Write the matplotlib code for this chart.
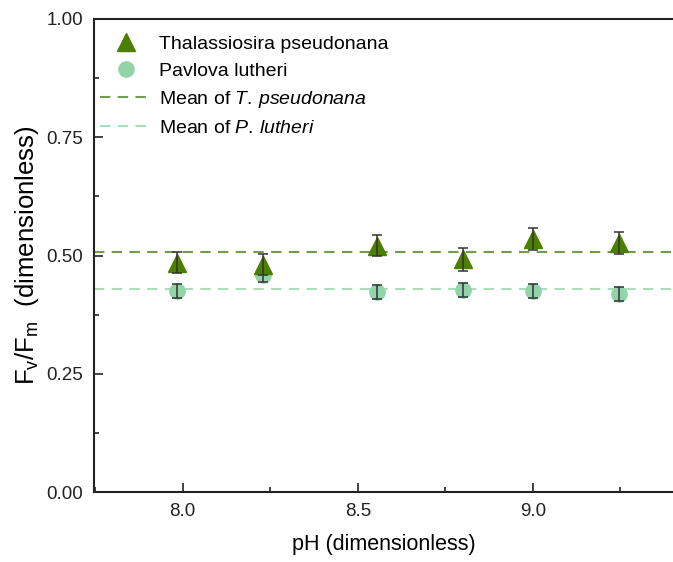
import numpy as np
import matplotlib
matplotlib.use("Agg")
import matplotlib.pyplot as plt
from matplotlib.ticker import MultipleLocator, FormatStrFormatter

plt.rcParams['font.family'] = ['Liberation Sans', 'DejaVu Sans']
plt.rcParams['mathtext.fontset'] = 'custom'
plt.rcParams['mathtext.rm'] = 'Liberation Sans'
plt.rcParams['mathtext.it'] = 'Liberation Sans:italic'

# pH levels and Fv/Fm (mean +/- sd)
ph = [7.985, 8.23, 8.555, 8.80, 9.00, 9.245]
tp_fvfm = [0.485, 0.481, 0.521, 0.492, 0.535, 0.526]
tp_err = [0.022, 0.023, 0.023, 0.024, 0.024, 0.023]
pl_fvfm = [0.425, 0.459, 0.423, 0.428, 0.425, 0.419]
pl_err = [0.015, 0.015, 0.015, 0.015, 0.015, 0.014]

c_tp = '#4c7f00'
c_pl = '#93d3a9'
c_tp_mean = '#6f9c50'
c_pl_mean = '#a9ddbb'

fig = plt.figure(figsize=(6.73, 5.62), dpi=100)
ax = fig.add_axes([0.1404, 0.124, 0.8596, 0.8427])

ax.axhline(np.mean(tp_fvfm), color=c_tp_mean, lw=1.5, dashes=(5, 3.5), zorder=1,
           label=r'Mean of $\mathit{T.\,pseudonana}$')
ax.axhline(np.mean(pl_fvfm), color=c_pl_mean, lw=1.5, dashes=(5, 3.5), zorder=1,
           label=r'Mean of $\mathit{P.\,lutheri}$')

ax.plot(ph, pl_fvfm, 'o', color=c_pl, ms=11, zorder=3, label='Pavlova lutheri')
ax.errorbar(ph, pl_fvfm, yerr=pl_err, fmt='none', ecolor='#333333', elinewidth=1.1,
            capsize=3.5, capthick=1.1, zorder=4)
ax.plot(ph, tp_fvfm, '^', color=c_tp, ms=12.5, zorder=5, label='Thalassiosira pseudonana')
ax.errorbar(ph, tp_fvfm, yerr=tp_err, fmt='none', ecolor='#333333', elinewidth=1.1,
            capsize=3.5, capthick=1.1, zorder=6)

ax.set_xlim(7.748, 9.40)
ax.set_ylim(0, 1)
ax.xaxis.set_major_locator(MultipleLocator(0.5))
ax.xaxis.set_minor_locator(MultipleLocator(0.25))
ax.yaxis.set_major_locator(MultipleLocator(0.25))
ax.yaxis.set_minor_locator(MultipleLocator(0.125))
ax.xaxis.set_major_formatter(FormatStrFormatter('%.1f'))
ax.yaxis.set_major_formatter(FormatStrFormatter('%.2f'))

ax.tick_params(which='both', direction='in', labelsize=13.5, width=1.2, colors='#222222')
ax.tick_params(which='major', length=6.5, pad=8)
ax.tick_params(which='minor', length=3.5)
ax.spines['right'].set_visible(False)
for s in ['left', 'bottom', 'top']:
    ax.spines[s].set_linewidth(1.5)
    ax.spines[s].set_color('#222222')

ax.set_xlabel('pH (dimensionless)', fontsize=15.5, labelpad=10)
ax.set_ylabel(r'F$_\mathrm{v}$/F$_\mathrm{m}$  (dimensionless)', fontsize=18.5, labelpad=4)

handles, labels = ax.get_legend_handles_labels()
order = [3, 2, 0, 1]
ax.legend([handles[i] for i in order], [labels[i] for i in order],
          loc='upper left', bbox_to_anchor=(-0.01, 0.99), frameon=False, fontsize=14,
          labelspacing=0.48, handlelength=2.6, handletextpad=0.4, borderaxespad=0.2)

fig.savefig('out.png', dpi=100)
